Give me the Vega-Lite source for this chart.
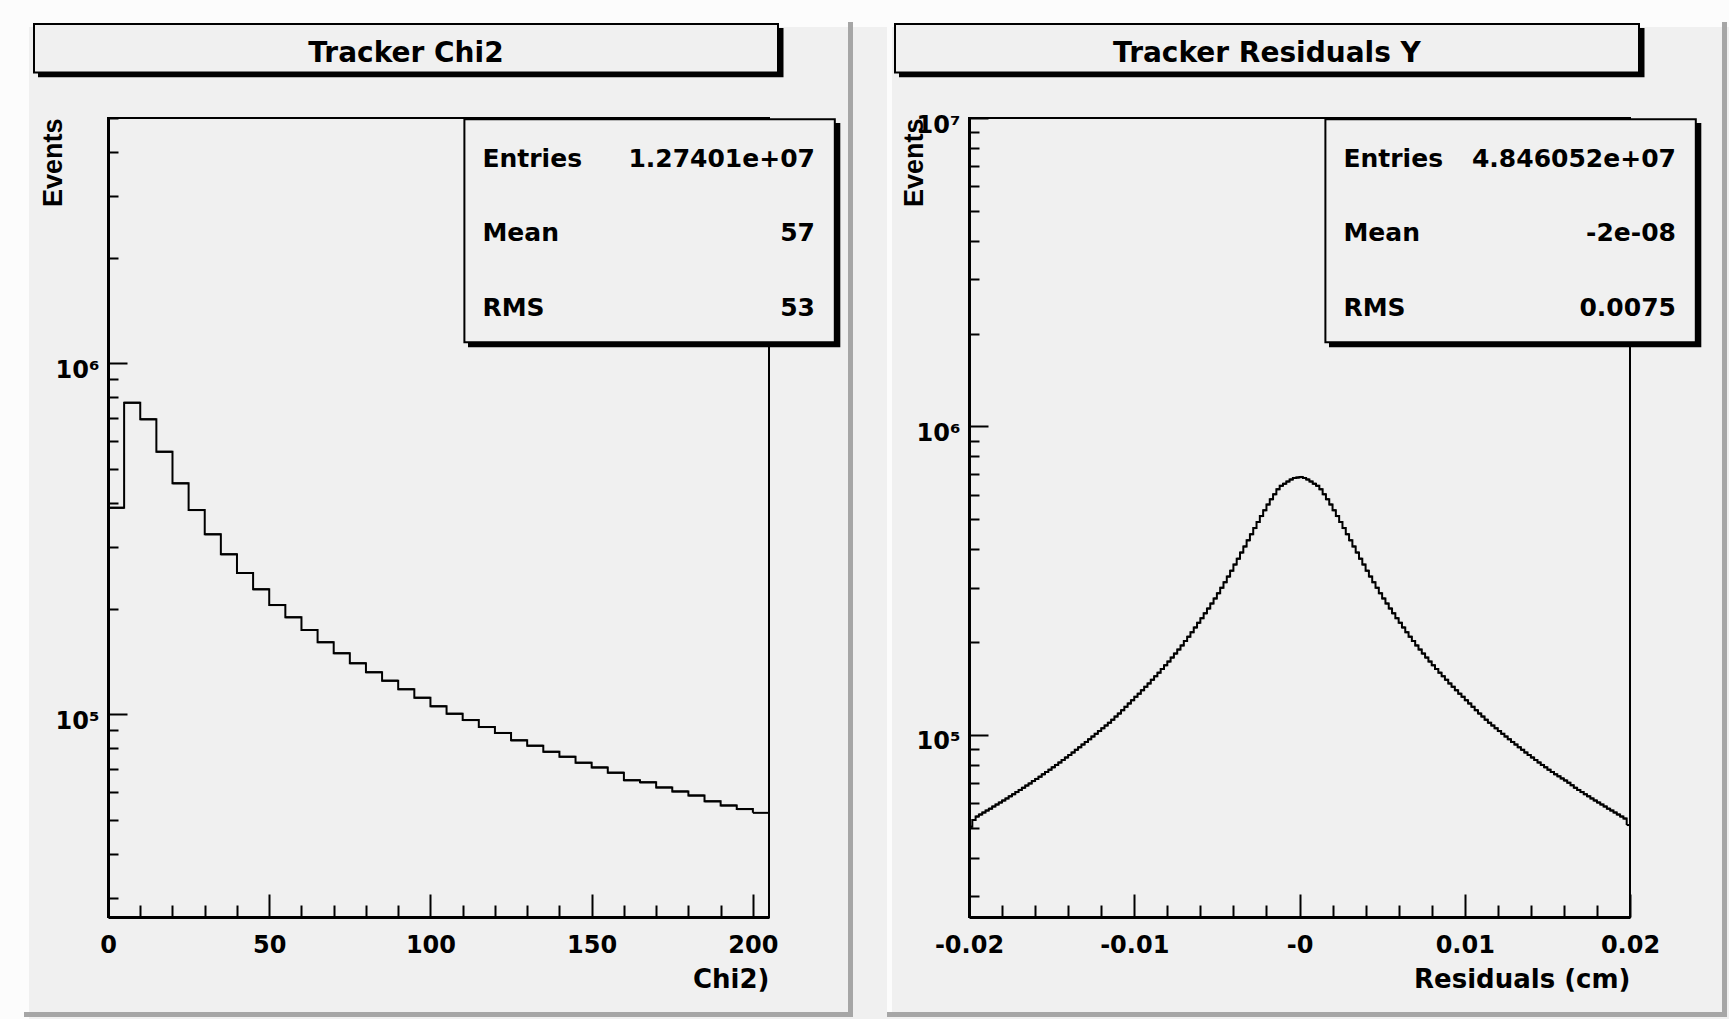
{
  "$schema": "https://vega.github.io/schema/vega-lite/v6.json",
  "background": "#f0f0f0",
  "padding": {"left": -2, "top": -1, "right": 0, "bottom": 0},
  "bounds": "flush",
  "spacing": 200,
  "datasets": {
    "chi2": [
      {"lo": 0, "hi": 5, "n": 387700}, {"lo": 5, "hi": 10, "n": 772300}, {"lo": 10, "hi": 15, "n": 692700},
      {"lo": 15, "hi": 20, "n": 559900}, {"lo": 20, "hi": 25, "n": 455000}, {"lo": 25, "hi": 30, "n": 381900},
      {"lo": 30, "hi": 35, "n": 325700}, {"lo": 35, "hi": 40, "n": 285700}, {"lo": 40, "hi": 45, "n": 252700},
      {"lo": 45, "hi": 50, "n": 227100}, {"lo": 50, "hi": 55, "n": 204800}, {"lo": 55, "hi": 60, "n": 189000},
      {"lo": 60, "hi": 65, "n": 173900}, {"lo": 65, "hi": 70, "n": 160500}, {"lo": 70, "hi": 75, "n": 149300},
      {"lo": 75, "hi": 80, "n": 139800}, {"lo": 80, "hi": 85, "n": 131800}, {"lo": 85, "hi": 90, "n": 124700},
      {"lo": 90, "hi": 95, "n": 117900}, {"lo": 95, "hi": 100, "n": 111500}, {"lo": 100, "hi": 105, "n": 105400},
      {"lo": 105, "hi": 110, "n": 100400}, {"lo": 110, "hi": 115, "n": 96300}, {"lo": 115, "hi": 120, "n": 92000},
      {"lo": 120, "hi": 125, "n": 88500}, {"lo": 125, "hi": 130, "n": 84300}, {"lo": 130, "hi": 135, "n": 81400},
      {"lo": 135, "hi": 140, "n": 78200}, {"lo": 140, "hi": 145, "n": 75700}, {"lo": 145, "hi": 150, "n": 72800},
      {"lo": 150, "hi": 155, "n": 70600}, {"lo": 155, "hi": 160, "n": 68200}, {"lo": 160, "hi": 165, "n": 64900},
      {"lo": 165, "hi": 170, "n": 64000}, {"lo": 170, "hi": 175, "n": 61900}, {"lo": 175, "hi": 180, "n": 60300},
      {"lo": 180, "hi": 185, "n": 58700}, {"lo": 185, "hi": 190, "n": 56500}, {"lo": 190, "hi": 195, "n": 55000},
      {"lo": 195, "hi": 200, "n": 53700}, {"lo": 200, "hi": 205, "n": 52400}
    ],
    "chi2Stats": [
      {"stat": "Entries", "val": "1.27401e+07", "line": 1},
      {"stat": "Mean", "val": "57", "line": 2},
      {"stat": "RMS", "val": "53", "line": 3}
    ],
    "resid": [
      {"lo": -0.02, "hi": -0.0198, "n": 50390}, {"lo": -0.0198, "hi": -0.0196, "n": 53000},
      {"lo": -0.0196, "hi": -0.0194, "n": 54380}, {"lo": -0.0194, "hi": -0.0192, "n": 55200},
      {"lo": -0.0192, "hi": -0.019, "n": 56030}, {"lo": -0.019, "hi": -0.0188, "n": 56870},
      {"lo": -0.0188, "hi": -0.0186, "n": 57690}, {"lo": -0.0186, "hi": -0.0184, "n": 58600},
      {"lo": -0.0184, "hi": -0.0182, "n": 59480}, {"lo": -0.0182, "hi": -0.018, "n": 60380},
      {"lo": -0.018, "hi": -0.0178, "n": 61290}, {"lo": -0.0178, "hi": -0.0176, "n": 62260},
      {"lo": -0.0176, "hi": -0.0174, "n": 63240}, {"lo": -0.0174, "hi": -0.0172, "n": 64240},
      {"lo": -0.0172, "hi": -0.017, "n": 65260}, {"lo": -0.017, "hi": -0.0168, "n": 66340},
      {"lo": -0.0168, "hi": -0.0166, "n": 67390}, {"lo": -0.0166, "hi": -0.0164, "n": 68500},
      {"lo": -0.0164, "hi": -0.0162, "n": 69640}, {"lo": -0.0162, "hi": -0.016, "n": 70840},
      {"lo": -0.016, "hi": -0.0158, "n": 72020}, {"lo": -0.0158, "hi": -0.0156, "n": 73240},
      {"lo": -0.0156, "hi": -0.0154, "n": 74540}, {"lo": -0.0154, "hi": -0.0152, "n": 75830},
      {"lo": -0.0152, "hi": -0.015, "n": 77150}, {"lo": -0.015, "hi": -0.0148, "n": 78540},
      {"lo": -0.0148, "hi": -0.0146, "n": 79960}, {"lo": -0.0146, "hi": -0.0144, "n": 81410},
      {"lo": -0.0144, "hi": -0.0142, "n": 82940}, {"lo": -0.0142, "hi": -0.014, "n": 84510},
      {"lo": -0.014, "hi": -0.0138, "n": 86100}, {"lo": -0.0138, "hi": -0.0136, "n": 87730},
      {"lo": -0.0136, "hi": -0.0134, "n": 89450}, {"lo": -0.0134, "hi": -0.0132, "n": 91200},
      {"lo": -0.0132, "hi": -0.013, "n": 93060}, {"lo": -0.013, "hi": -0.0128, "n": 94920},
      {"lo": -0.0128, "hi": -0.0126, "n": 96830}, {"lo": -0.0126, "hi": -0.0124, "n": 98810},
      {"lo": -0.0124, "hi": -0.0122, "n": 100800}, {"lo": -0.0122, "hi": -0.012, "n": 102900},
      {"lo": -0.012, "hi": -0.0118, "n": 105100}, {"lo": -0.0118, "hi": -0.0116, "n": 107300},
      {"lo": -0.0116, "hi": -0.0114, "n": 109500}, {"lo": -0.0114, "hi": -0.0112, "n": 112000},
      {"lo": -0.0112, "hi": -0.011, "n": 114700}, {"lo": -0.011, "hi": -0.0108, "n": 117300},
      {"lo": -0.0108, "hi": -0.0106, "n": 120300}, {"lo": -0.0106, "hi": -0.0104, "n": 123300},
      {"lo": -0.0104, "hi": -0.0102, "n": 126500}, {"lo": -0.0102, "hi": -0.01, "n": 129600},
      {"lo": -0.01, "hi": -0.0098, "n": 132900}, {"lo": -0.0098, "hi": -0.0096, "n": 136100},
      {"lo": -0.0096, "hi": -0.0094, "n": 139600}, {"lo": -0.0094, "hi": -0.0092, "n": 143200},
      {"lo": -0.0092, "hi": -0.009, "n": 146900}, {"lo": -0.009, "hi": -0.0088, "n": 150900},
      {"lo": -0.0088, "hi": -0.0086, "n": 155000}, {"lo": -0.0086, "hi": -0.0084, "n": 159200},
      {"lo": -0.0084, "hi": -0.0082, "n": 163600}, {"lo": -0.0082, "hi": -0.008, "n": 168200},
      {"lo": -0.008, "hi": -0.0078, "n": 172900}, {"lo": -0.0078, "hi": -0.0076, "n": 178100},
      {"lo": -0.0076, "hi": -0.0074, "n": 183500}, {"lo": -0.0074, "hi": -0.0072, "n": 189100},
      {"lo": -0.0072, "hi": -0.007, "n": 195100}, {"lo": -0.007, "hi": -0.0068, "n": 201600},
      {"lo": -0.0068, "hi": -0.0066, "n": 208200}, {"lo": -0.0066, "hi": -0.0064, "n": 215300},
      {"lo": -0.0064, "hi": -0.0062, "n": 223100}, {"lo": -0.0062, "hi": -0.006, "n": 230900},
      {"lo": -0.006, "hi": -0.0058, "n": 239100}, {"lo": -0.0058, "hi": -0.0056, "n": 247900},
      {"lo": -0.0056, "hi": -0.0054, "n": 256900}, {"lo": -0.0054, "hi": -0.0052, "n": 266700},
      {"lo": -0.0052, "hi": -0.005, "n": 277000}, {"lo": -0.005, "hi": -0.0048, "n": 287900},
      {"lo": -0.0048, "hi": -0.0046, "n": 299900}, {"lo": -0.0046, "hi": -0.0044, "n": 312700},
      {"lo": -0.0044, "hi": -0.0042, "n": 326100}, {"lo": -0.0042, "hi": -0.004, "n": 340800},
      {"lo": -0.004, "hi": -0.0038, "n": 356700}, {"lo": -0.0038, "hi": -0.0036, "n": 372800},
      {"lo": -0.0036, "hi": -0.0034, "n": 390100}, {"lo": -0.0034, "hi": -0.0032, "n": 408300},
      {"lo": -0.0032, "hi": -0.003, "n": 427400}, {"lo": -0.003, "hi": -0.0028, "n": 447400},
      {"lo": -0.0028, "hi": -0.0026, "n": 468300}, {"lo": -0.0026, "hi": -0.0024, "n": 490100},
      {"lo": -0.0024, "hi": -0.0022, "n": 512200}, {"lo": -0.0022, "hi": -0.002, "n": 534900},
      {"lo": -0.002, "hi": -0.0018, "n": 558400}, {"lo": -0.0018, "hi": -0.0016, "n": 580900},
      {"lo": -0.0016, "hi": -0.0014, "n": 602800}, {"lo": -0.0014, "hi": -0.0012, "n": 625800},
      {"lo": -0.0012, "hi": -0.001, "n": 642000}, {"lo": -0.001, "hi": -0.0008, "n": 652100},
      {"lo": -0.0008, "hi": -0.0006, "n": 662900}, {"lo": -0.0006, "hi": -0.0004, "n": 673300},
      {"lo": -0.0004, "hi": -0.0002, "n": 680900}, {"lo": -0.0002, "hi": 0, "n": 683000},
      {"lo": 0, "hi": 0.0002, "n": 686000}, {"lo": 0.0002, "hi": 0.0004, "n": 680900},
      {"lo": 0.0004, "hi": 0.0006, "n": 673300}, {"lo": 0.0006, "hi": 0.0008, "n": 662900},
      {"lo": 0.0008, "hi": 0.001, "n": 652100}, {"lo": 0.001, "hi": 0.0012, "n": 642000},
      {"lo": 0.0012, "hi": 0.0014, "n": 625800}, {"lo": 0.0014, "hi": 0.0016, "n": 602800},
      {"lo": 0.0016, "hi": 0.0018, "n": 580900}, {"lo": 0.0018, "hi": 0.002, "n": 558400},
      {"lo": 0.002, "hi": 0.0022, "n": 534900}, {"lo": 0.0022, "hi": 0.0024, "n": 512200},
      {"lo": 0.0024, "hi": 0.0026, "n": 490100}, {"lo": 0.0026, "hi": 0.0028, "n": 468300},
      {"lo": 0.0028, "hi": 0.003, "n": 447400}, {"lo": 0.003, "hi": 0.0032, "n": 427400},
      {"lo": 0.0032, "hi": 0.0034, "n": 408300}, {"lo": 0.0034, "hi": 0.0036, "n": 390100},
      {"lo": 0.0036, "hi": 0.0038, "n": 372800}, {"lo": 0.0038, "hi": 0.004, "n": 356700},
      {"lo": 0.004, "hi": 0.0042, "n": 340800}, {"lo": 0.0042, "hi": 0.0044, "n": 326100},
      {"lo": 0.0044, "hi": 0.0046, "n": 312700}, {"lo": 0.0046, "hi": 0.0048, "n": 299900},
      {"lo": 0.0048, "hi": 0.005, "n": 287900}, {"lo": 0.005, "hi": 0.0052, "n": 277000},
      {"lo": 0.0052, "hi": 0.0054, "n": 266700}, {"lo": 0.0054, "hi": 0.0056, "n": 256900},
      {"lo": 0.0056, "hi": 0.0058, "n": 247900}, {"lo": 0.0058, "hi": 0.006, "n": 239100},
      {"lo": 0.006, "hi": 0.0062, "n": 230900}, {"lo": 0.0062, "hi": 0.0064, "n": 223100},
      {"lo": 0.0064, "hi": 0.0066, "n": 215300}, {"lo": 0.0066, "hi": 0.0068, "n": 208200},
      {"lo": 0.0068, "hi": 0.007, "n": 201600}, {"lo": 0.007, "hi": 0.0072, "n": 195100},
      {"lo": 0.0072, "hi": 0.0074, "n": 189100}, {"lo": 0.0074, "hi": 0.0076, "n": 183500},
      {"lo": 0.0076, "hi": 0.0078, "n": 178100}, {"lo": 0.0078, "hi": 0.008, "n": 172900},
      {"lo": 0.008, "hi": 0.0082, "n": 168200}, {"lo": 0.0082, "hi": 0.0084, "n": 163600},
      {"lo": 0.0084, "hi": 0.0086, "n": 159200}, {"lo": 0.0086, "hi": 0.0088, "n": 155000},
      {"lo": 0.0088, "hi": 0.009, "n": 150900}, {"lo": 0.009, "hi": 0.0092, "n": 146900},
      {"lo": 0.0092, "hi": 0.0094, "n": 143200}, {"lo": 0.0094, "hi": 0.0096, "n": 139600},
      {"lo": 0.0096, "hi": 0.0098, "n": 136100}, {"lo": 0.0098, "hi": 0.01, "n": 132900},
      {"lo": 0.01, "hi": 0.0102, "n": 129600}, {"lo": 0.0102, "hi": 0.0104, "n": 126500},
      {"lo": 0.0104, "hi": 0.0106, "n": 123300}, {"lo": 0.0106, "hi": 0.0108, "n": 120300},
      {"lo": 0.0108, "hi": 0.011, "n": 117300}, {"lo": 0.011, "hi": 0.0112, "n": 114700},
      {"lo": 0.0112, "hi": 0.0114, "n": 112000}, {"lo": 0.0114, "hi": 0.0116, "n": 109500},
      {"lo": 0.0116, "hi": 0.0118, "n": 107300}, {"lo": 0.0118, "hi": 0.012, "n": 105100},
      {"lo": 0.012, "hi": 0.0122, "n": 102900}, {"lo": 0.0122, "hi": 0.0124, "n": 100800},
      {"lo": 0.0124, "hi": 0.0126, "n": 98810}, {"lo": 0.0126, "hi": 0.0128, "n": 96830},
      {"lo": 0.0128, "hi": 0.013, "n": 94920}, {"lo": 0.013, "hi": 0.0132, "n": 93060},
      {"lo": 0.0132, "hi": 0.0134, "n": 91200}, {"lo": 0.0134, "hi": 0.0136, "n": 89450},
      {"lo": 0.0136, "hi": 0.0138, "n": 87730}, {"lo": 0.0138, "hi": 0.014, "n": 86100},
      {"lo": 0.014, "hi": 0.0142, "n": 84510}, {"lo": 0.0142, "hi": 0.0144, "n": 82940},
      {"lo": 0.0144, "hi": 0.0146, "n": 81410}, {"lo": 0.0146, "hi": 0.0148, "n": 79960},
      {"lo": 0.0148, "hi": 0.015, "n": 78540}, {"lo": 0.015, "hi": 0.0152, "n": 77150},
      {"lo": 0.0152, "hi": 0.0154, "n": 75830}, {"lo": 0.0154, "hi": 0.0156, "n": 74540},
      {"lo": 0.0156, "hi": 0.0158, "n": 73400}, {"lo": 0.0158, "hi": 0.016, "n": 72300},
      {"lo": 0.016, "hi": 0.0162, "n": 71200}, {"lo": 0.0162, "hi": 0.0164, "n": 70000},
      {"lo": 0.0164, "hi": 0.0166, "n": 68700}, {"lo": 0.0166, "hi": 0.0168, "n": 67390},
      {"lo": 0.0168, "hi": 0.017, "n": 66340}, {"lo": 0.017, "hi": 0.0172, "n": 65260},
      {"lo": 0.0172, "hi": 0.0174, "n": 64240}, {"lo": 0.0174, "hi": 0.0176, "n": 63240},
      {"lo": 0.0176, "hi": 0.0178, "n": 62260}, {"lo": 0.0178, "hi": 0.018, "n": 61290},
      {"lo": 0.018, "hi": 0.0182, "n": 60380}, {"lo": 0.0182, "hi": 0.0184, "n": 59480},
      {"lo": 0.0184, "hi": 0.0186, "n": 58600}, {"lo": 0.0186, "hi": 0.0188, "n": 57690},
      {"lo": 0.0188, "hi": 0.019, "n": 56870}, {"lo": 0.019, "hi": 0.0192, "n": 56030},
      {"lo": 0.0192, "hi": 0.0194, "n": 55200}, {"lo": 0.0194, "hi": 0.0196, "n": 54380},
      {"lo": 0.0196, "hi": 0.0198, "n": 53570}, {"lo": 0.0198, "hi": 0.02, "n": 51030}
    ],
    "residStats": [
      {"stat": "Entries", "val": "4.846052e+07", "line": 1},
      {"stat": "Mean", "val": "-2e-08", "line": 2},
      {"stat": "RMS", "val": "0.0075", "line": 3}
    ]
  },
  "hconcat": [
    {
      "width": 661,
      "height": 799,
      "resolve": {"scale": {"x": "independent", "y": "independent"}},
      "layer": [
        {
          "data": {"values": [{}]},
          "layer": [
            {"mark": {"type": "rect", "fill": "#fcfcfc"}, "encoding": {
              "x": {"datum": -0.16339, "type": "quantitative", "scale": {"domain": [0, 1], "nice": false, "zero": false}, "axis": null},
              "x2": {"datum": 2.45234},
              "y": {"datum": 1.11389, "type": "quantitative", "scale": {"domain": [0, 1], "nice": false, "zero": false}, "axis": null},
              "y2": {"datum": 1.14768}}},
            {"mark": {"type": "rect", "fill": "#fcfcfc"}, "encoding": {
              "x": {"datum": -0.16339, "type": "quantitative"}, "x2": {"datum": -0.11952},
              "y": {"datum": -0.12766, "type": "quantitative"}, "y2": {"datum": 1.14768}}},
            {"mark": {"type": "rect", "fill": "#a6a6a6"}, "encoding": {
              "x": {"datum": 1.11952, "type": "quantitative"}, "x2": {"datum": 1.12708},
              "y": {"datum": -0.12516, "type": "quantitative"}, "y2": {"datum": 1.12015}}},
            {"mark": {"type": "rect", "fill": "#a6a6a6"}, "encoding": {
              "x": {"datum": -0.12708, "type": "quantitative"}, "x2": {"datum": 1.12708},
              "y": {"datum": -0.12516, "type": "quantitative"}, "y2": {"datum": -0.1189}}}
          ]
        },
        {
          "data": {"name": "chi2"},
          "encoding": {
            "x": {"field": "lo", "type": "quantitative",
              "scale": {"domain": [0, 205], "nice": false, "zero": false},
              "axis": {
                "orient": "bottom",
                "title": "Chi2)",
                "values": [0, 10, 20, 30, 40, 50, 60, 70, 80, 90, 100, 110, 120, 130, 140, 150, 160, 170, 180, 190, 200],
                "labelExpr": "datum.value % 50 == 0 ? datum.label : ''",
                "tickSize": {"condition": {"test": "datum.value % 50 == 0", "value": -23}, "value": -12},
                "labelPadding": 58, "labelBaseline": "alphabetic",
                "titleAnchor": "end", "titleBaseline": "alphabetic", "titlePadding": 19
              }},
            "y": {"field": "n", "type": "quantitative",
              "scale": {"type": "log", "domain": [26460, 5000000], "nice": false},
              "axis": {
                "orient": "left",
                "title": "Events",
                "values": [30000, 40000, 50000, 60000, 70000, 80000, 90000, 100000, 200000, 300000, 400000, 500000, 600000, 700000, 800000, 900000, 1000000, 2000000, 3000000, 4000000, 5000000],
                "labelExpr": "datum.value == 100000 ? '10⁵' : datum.value == 1000000 ? '10⁶' : ''",
                "tickSize": {"condition": {"test": "datum.value == 100000 || datum.value == 1000000", "value": -19}, "value": -10},
                "labelPadding": 28, "labelBaseline": "alphabetic", "labelOffset": 14,
                "titleAnchor": "end", "titleBaseline": "alphabetic", "titlePadding": -6,
                "titleFont": "Liberation Sans", "titleFontSize": 27
              }}
          },
          "layer": [
            {"mark": {"type": "line", "interpolate": "step-after", "color": "black", "strokeWidth": 2}},
            {"mark": {"type": "rule", "color": "black", "strokeWidth": 2}, "encoding": {"x2": {"field": "hi"}}}
          ]
        },
        {
          "data": {"values": [{}]},
          "layer": [
            {"mark": {"type": "rect", "fill": "black"}, "encoding": {
              "x": {"datum": -0.1059, "type": "quantitative", "scale": {"domain": [0, 1], "nice": false, "zero": false}, "axis": null},
              "x2": {"datum": 1.02194},
              "y": {"datum": 1.05094, "type": "quantitative", "scale": {"domain": [0, 1], "nice": false, "zero": false}, "axis": null},
              "y2": {"datum": 1.11264}}},
            {"mark": {"type": "rect", "fill": "#f0f0f0", "stroke": "black", "strokeWidth": 2}, "encoding": {
              "x": {"datum": -0.11195, "type": "quantitative"}, "x2": {"datum": 1.01362},
              "y": {"datum": 1.05695, "type": "quantitative"}, "y2": {"datum": 1.11765}}},
            {"data": {"values": [{"t": "Tracker Chi2"}]},
              "mark": {"type": "text", "font": "DejaVu Sans", "fontWeight": "bold", "fontSize": 28, "align": "center", "baseline": "alphabetic", "color": "black"},
              "encoding": {"x": {"datum": 0.4508, "type": "quantitative"}, "y": {"datum": 1.07046, "type": "quantitative"}, "text": {"field": "t"}}},
            {"mark": {"type": "rect", "fill": "black"}, "encoding": {
              "x": {"datum": 0.54463, "type": "quantitative"}, "x2": {"datum": 1.10787},
              "y": {"datum": 0.71302, "type": "quantitative"}, "y2": {"datum": 0.99374}}},
            {"mark": {"type": "rect", "fill": "#f0f0f0", "stroke": "black", "strokeWidth": 2}, "encoding": {
              "x": {"datum": 0.53918, "type": "quantitative"}, "x2": {"datum": 1.09955},
              "y": {"datum": 0.71927, "type": "quantitative"}, "y2": {"datum": 0.99837}}}
          ]
        },
        {
          "data": {"name": "chi2Stats"},
          "encoding": {
            "y": {"field": "line", "type": "quantitative", "scale": {"domain": [0.3469, 11.054], "reverse": true, "nice": false, "zero": false}, "axis": null},
            "text": {"field": "stat"}
          },
          "layer": [
            {"mark": {"type": "text", "align": "left", "baseline": "alphabetic", "font": "DejaVu Sans", "fontWeight": "bold", "fontSize": 25, "color": "black"},
              "encoding": {"x": {"datum": 0.5665, "type": "quantitative", "scale": {"domain": [0, 1], "nice": false, "zero": false}, "axis": null}}},
            {"mark": {"type": "text", "align": "right", "baseline": "alphabetic", "font": "DejaVu Sans", "fontWeight": "bold", "fontSize": 25, "color": "black"},
              "encoding": {"x": {"datum": 1.0695, "type": "quantitative"}, "text": {"field": "val"}}}
          ]
        }
      ]
    },
    {
      "width": 661,
      "height": 799,
      "resolve": {"scale": {"x": "independent", "y": "independent"}},
      "layer": [
        {
          "data": {"values": [{}]},
          "layer": [
            {"mark": {"type": "rect", "fill": "#fcfcfc"}, "encoding": {
              "x": {"datum": -0.12405, "type": "quantitative", "scale": {"domain": [0, 1], "nice": false, "zero": false}, "axis": null},
              "x2": {"datum": -0.11649},
              "y": {"datum": -0.1189, "type": "quantitative", "scale": {"domain": [0, 1], "nice": false, "zero": false}, "axis": null},
              "y2": {"datum": 1.12015}}},
            {"mark": {"type": "rect", "fill": "#a6a6a6"}, "encoding": {
              "x": {"datum": 1.13918, "type": "quantitative"}, "x2": {"datum": 1.14675},
              "y": {"datum": -0.12516, "type": "quantitative"}, "y2": {"datum": 1.12015}}},
            {"mark": {"type": "rect", "fill": "#a6a6a6"}, "encoding": {
              "x": {"datum": -0.12405, "type": "quantitative"}, "x2": {"datum": 1.14675},
              "y": {"datum": -0.12516, "type": "quantitative"}, "y2": {"datum": -0.1189}}}
          ]
        },
        {
          "data": {"name": "resid"},
          "encoding": {
            "x": {"field": "lo", "type": "quantitative",
              "scale": {"domain": [-0.02, 0.02], "nice": false, "zero": false},
              "axis": {
                "orient": "bottom",
                "title": "Residuals (cm)",
                "values": [-0.02, -0.018, -0.016, -0.014, -0.012, -0.01, -0.008, -0.006, -0.004, -0.002, 0, 0.002, 0.004, 0.006, 0.008, 0.01, 0.012, 0.014, 0.016, 0.018, 0.02],
                "labelExpr": "abs(datum.value) < 1e-9 ? '-0' : (abs(datum.value * 100 - round(datum.value * 100)) < 1e-6 ? (datum.value < 0 ? '-' + format(-datum.value, '.2f') : format(datum.value, '.2f')) : '')",
                "tickSize": {"condition": {"test": "abs(datum.value * 100 - round(datum.value * 100)) < 1e-6", "value": -23}, "value": -12},
                "labelPadding": 58, "labelBaseline": "alphabetic",
                "titleAnchor": "end", "titleBaseline": "alphabetic", "titlePadding": 19
              }},
            "y": {"field": "n", "type": "quantitative",
              "scale": {"type": "log", "domain": [25690, 10000000], "nice": false},
              "axis": {
                "orient": "left",
                "title": "Events",
                "values": [30000, 40000, 50000, 60000, 70000, 80000, 90000, 100000, 200000, 300000, 400000, 500000, 600000, 700000, 800000, 900000, 1000000, 2000000, 3000000, 4000000, 5000000, 6000000, 7000000, 8000000, 9000000, 10000000],
                "labelExpr": "datum.value == 100000 ? '10⁵' : datum.value == 1000000 ? '10⁶' : datum.value == 10000000 ? '10⁷' : ''",
                "tickSize": {"condition": {"test": "datum.value == 100000 || datum.value == 1000000 || datum.value == 10000000", "value": -19}, "value": -10},
                "labelPadding": 28, "labelBaseline": "alphabetic", "labelOffset": 14,
                "titleAnchor": "end", "titleBaseline": "alphabetic", "titlePadding": -6,
                "titleFont": "Liberation Sans", "titleFontSize": 27
              }}
          },
          "layer": [
            {"mark": {"type": "line", "interpolate": "step-after", "color": "black", "strokeWidth": 2}},
            {"mark": {"type": "rule", "color": "black", "strokeWidth": 2}, "encoding": {"x2": {"field": "hi"}}}
          ]
        },
        {
          "data": {"values": [{}]},
          "layer": [
            {"mark": {"type": "rect", "fill": "black"}, "encoding": {
              "x": {"datum": -0.1059, "type": "quantitative", "scale": {"domain": [0, 1], "nice": false, "zero": false}, "axis": null},
              "x2": {"datum": 1.02194},
              "y": {"datum": 1.05094, "type": "quantitative", "scale": {"domain": [0, 1], "nice": false, "zero": false}, "axis": null},
              "y2": {"datum": 1.11264}}},
            {"mark": {"type": "rect", "fill": "#f0f0f0", "stroke": "black", "strokeWidth": 2}, "encoding": {
              "x": {"datum": -0.11195, "type": "quantitative"}, "x2": {"datum": 1.01362},
              "y": {"datum": 1.05695, "type": "quantitative"}, "y2": {"datum": 1.11765}}},
            {"data": {"values": [{"t": "Tracker Residuals Y"}]},
              "mark": {"type": "text", "font": "DejaVu Sans", "fontWeight": "bold", "fontSize": 28, "align": "center", "baseline": "alphabetic", "color": "black"},
              "encoding": {"x": {"datum": 0.4508, "type": "quantitative"}, "y": {"datum": 1.07046, "type": "quantitative"}, "text": {"field": "t"}}},
            {"mark": {"type": "rect", "fill": "black"}, "encoding": {
              "x": {"datum": 0.54463, "type": "quantitative"}, "x2": {"datum": 1.10787},
              "y": {"datum": 0.71302, "type": "quantitative"}, "y2": {"datum": 0.99374}}},
            {"mark": {"type": "rect", "fill": "#f0f0f0", "stroke": "black", "strokeWidth": 2}, "encoding": {
              "x": {"datum": 0.53918, "type": "quantitative"}, "x2": {"datum": 1.09955},
              "y": {"datum": 0.71927, "type": "quantitative"}, "y2": {"datum": 0.99837}}}
          ]
        },
        {
          "data": {"name": "residStats"},
          "encoding": {
            "y": {"field": "line", "type": "quantitative", "scale": {"domain": [0.3469, 11.054], "reverse": true, "nice": false, "zero": false}, "axis": null},
            "text": {"field": "stat"}
          },
          "layer": [
            {"mark": {"type": "text", "align": "left", "baseline": "alphabetic", "font": "DejaVu Sans", "fontWeight": "bold", "fontSize": 25, "color": "black"},
              "encoding": {"x": {"datum": 0.5665, "type": "quantitative", "scale": {"domain": [0, 1], "nice": false, "zero": false}, "axis": null}}},
            {"mark": {"type": "text", "align": "right", "baseline": "alphabetic", "font": "DejaVu Sans", "fontWeight": "bold", "fontSize": 25, "color": "black"},
              "encoding": {"x": {"datum": 1.0695, "type": "quantitative"}, "text": {"field": "val"}}}
          ]
        }
      ]
    }
  ],
  "config": {
    "view": {"stroke": "black", "strokeWidth": 2},
    "axis": {
      "grid": false,
      "domainColor": "black", "domainWidth": 3,
      "tickColor": "black", "tickWidth": 2,
      "labelColor": "black", "labelFont": "DejaVu Sans", "labelFontWeight": "bold", "labelFontSize": 24,
      "labelFlush": false, "labelOverlap": false,
      "titleColor": "black", "titleFont": "DejaVu Sans", "titleFontWeight": "bold", "titleFontSize": 26
    }
  }
}
